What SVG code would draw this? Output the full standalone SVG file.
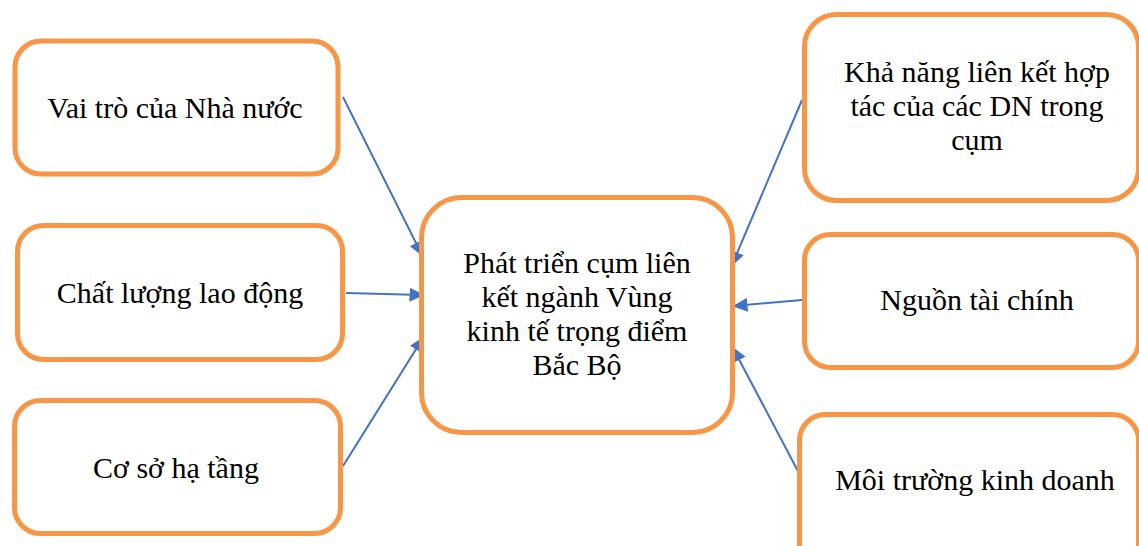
<svg xmlns="http://www.w3.org/2000/svg" width="1139" height="546" viewBox="0 0 1139 546">
  <style>
    .box { fill: #ffffff; stroke: #F79646; stroke-width: 5; }
    .lbl { font-size: 30px; fill: #000000; text-anchor: middle; }
    .edge { stroke: #4472C4; stroke-width: 2; fill: none; marker-end: url(#arrow); }
  </style>
  <defs>
    <marker id="arrow" viewBox="0 0 10 10" refX="9" refY="5" markerWidth="7.5" markerHeight="7" orient="auto" markerUnits="strokeWidth" preserveAspectRatio="none">
      <path d="M0,0 L10,5 L0,10 z" fill="#4472C4"/>
    </marker>
  </defs>
  <rect width="1139" height="546" fill="#ffffff"/>

  <g id="connectors">
    <line class="edge" x1="343" y1="97" x2="422" y2="255"/>
    <line class="edge" x1="346" y1="293" x2="423" y2="295"/>
    <line class="edge" x1="343" y1="466" x2="423" y2="338"/>
    <line class="edge" x1="802" y1="100" x2="732" y2="265"/>
    <line class="edge" x1="802" y1="300" x2="734" y2="306"/>
    <line class="edge" x1="800" y1="475" x2="733" y2="348"/>
  </g>

  <g font-family="Liberation Serif, serif">
  <g id="node-nha-nuoc">
    <rect class="box" x="15" y="41" width="323" height="133" rx="26"/>
    <text class="lbl" x="175" y="118">Vai trò của Nhà nước</text>
  </g>

  <g id="node-lao-dong">
    <rect class="box" x="17.5" y="225.5" width="325" height="134" rx="26"/>
    <text class="lbl" x="180" y="303">Chất lượng lao động</text>
  </g>

  <g id="node-ha-tang">
    <rect class="box" x="14.5" y="400.5" width="326" height="133" rx="26"/>
    <text class="lbl" x="176" y="478">Cơ sở hạ tầng</text>
  </g>

  <g id="node-center">
    <rect class="box" x="421.5" y="197.5" width="311" height="235" rx="40"/>
    <text class="lbl" x="577" y="273">Phát triển cụm liên</text>
    <text class="lbl" x="577" y="307">kết ngành Vùng</text>
    <text class="lbl" x="577" y="341">kinh tế trọng điểm</text>
    <text class="lbl" x="577" y="375">Bắc Bộ</text>
  </g>

  <g id="node-lien-ket">
    <rect class="box" x="804.5" y="14.5" width="334" height="186" rx="32"/>
    <text class="lbl" x="977" y="82">Khả năng liên kết hợp</text>
    <text class="lbl" x="977" y="116">tác của các DN trong</text>
    <text class="lbl" x="977" y="150">cụm</text>
  </g>

  <g id="node-tai-chinh">
    <rect class="box" x="804.5" y="234.5" width="334" height="133" rx="26"/>
    <text class="lbl" x="977" y="310">Nguồn tài chính</text>
  </g>

  <g id="node-moi-truong">
    <rect class="box" x="799.5" y="414.5" width="339" height="160" rx="26"/>
    <text class="lbl" x="975" y="490">Môi trường kinh doanh</text>
  </g>
  </g>
</svg>
